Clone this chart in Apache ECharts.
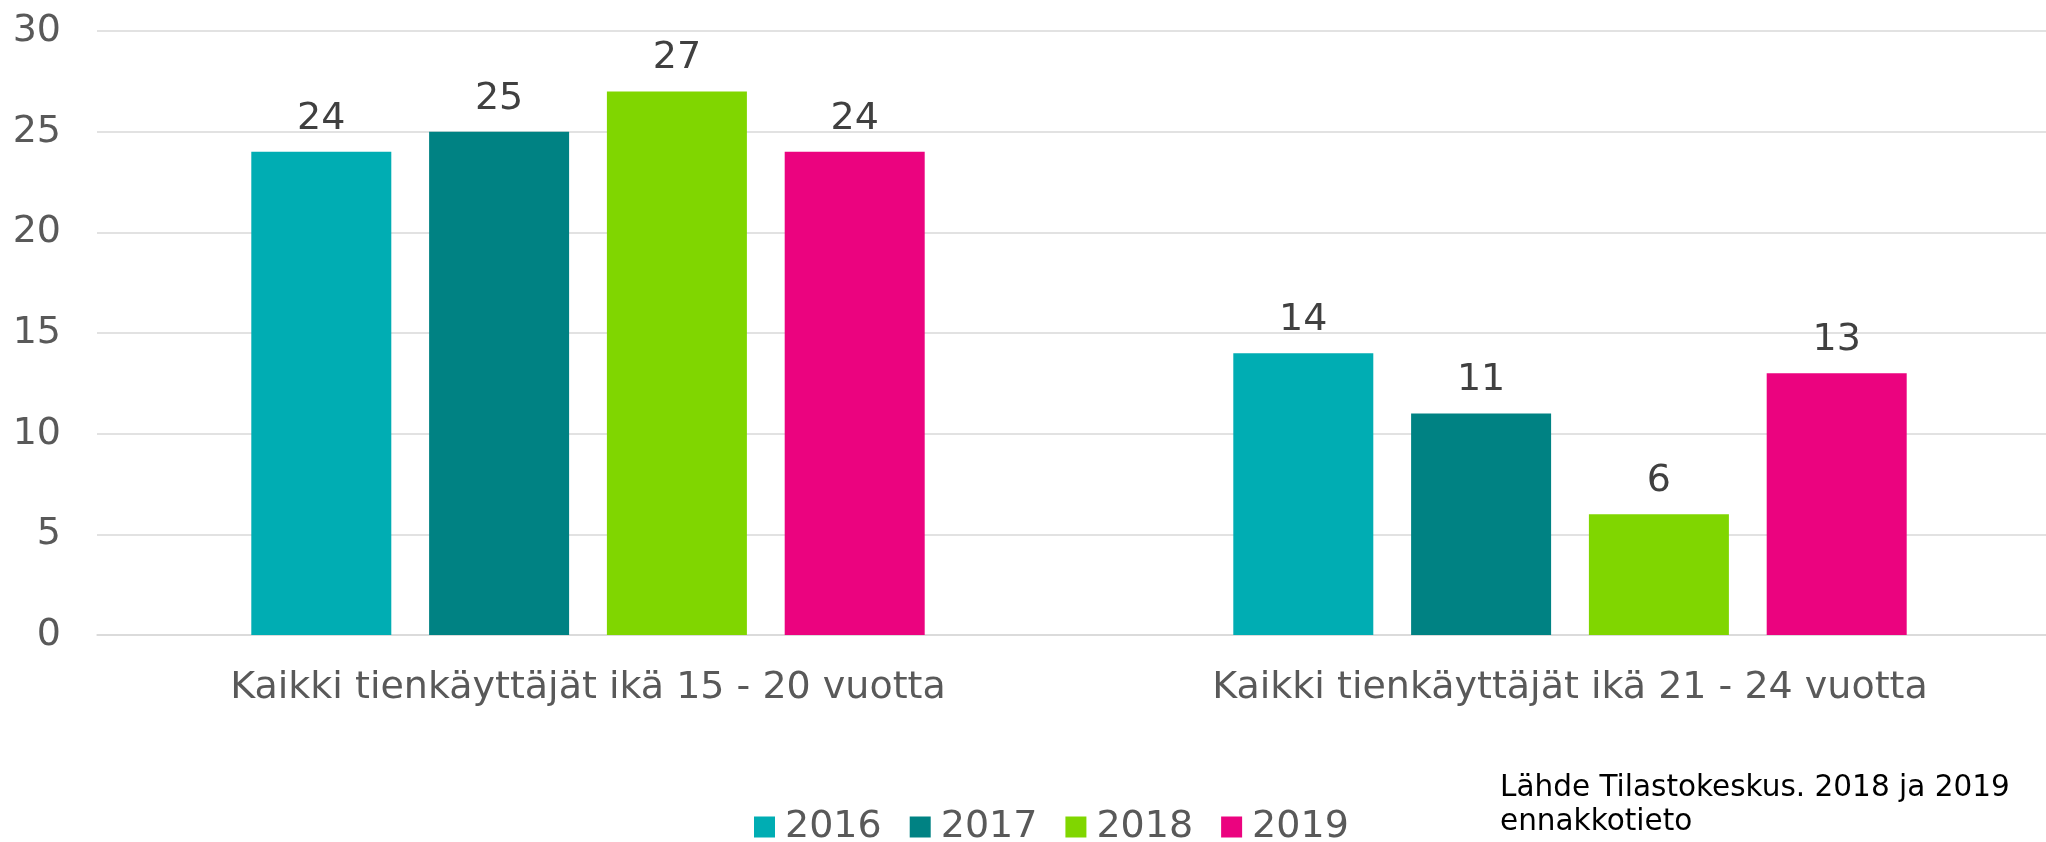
<!DOCTYPE html>
<html>
<head>
<meta charset="utf-8">
<script src="https://cdn.jsdelivr.net/npm/echarts@6/dist/echarts.min.js"></script>
<style>
	html, body { margin: 0; padding: 0; background: #fff; overflow: hidden; }
	/* a bit wider than the window: the gridlines run off the right edge in the original */
	#main { width: 2080px; height: 842px; }
</style>
</head>
<body>
<div id="main"></div>
<script>
	var categories = ['Kaikki tienkäyttäjät ikä 15 - 20 vuotta', 'Kaikki tienkäyttäjät ikä 21 - 24 vuotta'];
	var years = ['2016', '2017', '2018', '2019'];
	var v2016 = [24, 14];
	var v2017 = [25, 11];
	var v2018 = [27, 6];
	var v2019 = [24, 13];
	var colors = ['#00adb3', '#008283', '#80d600', '#eb037f'];
	var sourceText = 'Lähde Tilastokeskus. 2018 ja 2019\nennakkotieto';

	var font = '"DejaVu Sans", Verdana, sans-serif';
	var myChart = echarts.init(document.getElementById('main'));

	var seriesData = [v2016, v2017, v2018, v2019];
	var series = [];
	for (var i = 0; i < years.length; i++) {
		series.push({
			name: years[i],
			type: 'bar',
			data: seriesData[i],
			barWidth: 140,
			barGap: '27%',
			itemStyle: { color: colors[i] },
			label: {
				show: true,
				position: 'top',
				distance: 14,
				color: '#404040',
				fontSize: 38,
				fontFamily: font
			}
		});
	}

	var option = {
		backgroundColor: '#ffffff',
		animation: false,
		grid: {
			left: 97,
			right: 19,
			top: 31,
			bottom: 207
		},
		legend: {
			data: years,
			left: 749,
			top: 803,
			icon: 'rect',
			itemWidth: 21,
			itemHeight: 21,
			itemGap: 28,
			textStyle: {
				color: '#595959',
				fontSize: 38,
				fontFamily: font,
				padding: [0, 0, 0, 5]
			}
		},
		xAxis: [{
			type: 'category',
			data: categories,
			axisLine: {
				lineStyle: { color: '#d9d9d9', width: 1.5 }
			},
			axisTick: { show: false },
			axisLabel: {
				color: '#595959',
				fontSize: 38,
				fontFamily: font,
				margin: 34
			}
		}],
		yAxis: [{
			type: 'value',
			min: 0,
			max: 30,
			interval: 5,
			axisLine: { show: false },
			axisTick: { show: false },
			axisLabel: {
				color: '#595959',
				fontSize: 38,
				fontFamily: font,
				margin: 36
			},
			splitLine: {
				lineStyle: { color: '#d9d9d9', width: 1.5 }
			}
		}],
		graphic: [{
			type: 'text',
			left: 1500,
			top: 771,
			style: {
				text: sourceText,
				fill: '#000000',
				fontSize: 29.5,
				lineHeight: 34,
				fontFamily: font
			}
		}],
		series: series
	};
	myChart.setOption(option);
</script>
</body>
</html>
